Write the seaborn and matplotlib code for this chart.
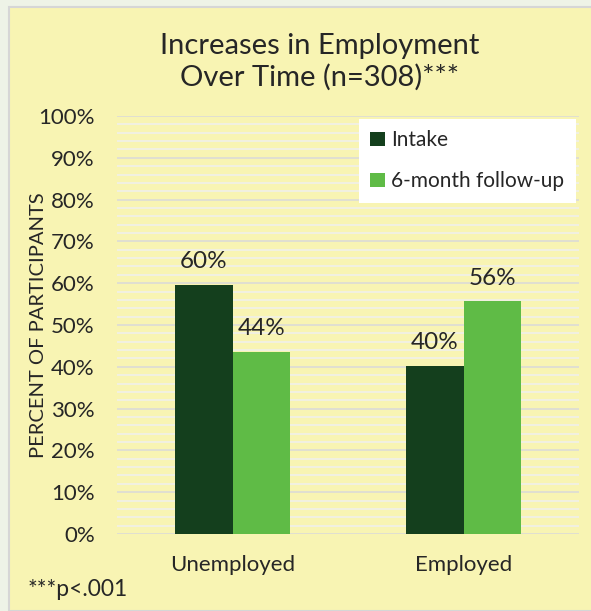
import matplotlib
matplotlib.use("Agg")
import matplotlib.pyplot as plt
import seaborn as sns
import pandas as pd
from matplotlib.patches import Rectangle
from matplotlib.ticker import MultipleLocator, FuncFormatter

categories = ["Unemployed", "Employed"]
series = ["Intake", "6-month follow-up"]
intake = [59.6, 40.3]
followup = [43.6, 55.7]
value_labels = [["60%", "40%"], ["44%", "56%"]]

df = pd.DataFrame({
    "category": categories * 2,
    "series": [series[0]] * 2 + [series[1]] * 2,
    "value": intake + followup,
})

sns.set_theme(style="white")
plt.rcParams["font.family"] = ["Lato", "DejaVu Sans"]

YELLOW = "#F8F4B3"
DARK = "#143F1D"
LIGHT = "#5FBB46"
TEXT = "#262626"

fig = plt.figure(figsize=(5.91, 6.11), dpi=100, facecolor="#EEF3E7")
fig.patches.append(Rectangle((9 / 591, 0), 1, 1 - 7 / 611, transform=fig.transFigure,
                             facecolor=YELLOW, edgecolor="#D6D6D6", linewidth=1.5, zorder=-10))

ax = fig.add_axes([117 / 591, 1 - 534 / 611, (579 - 117) / 591, (534 - 116) / 611])
ax.set_facecolor(YELLOW)
ax.patch.set_alpha(0)

sns.barplot(data=df, x="category", y="value", hue="series", order=categories,
            hue_order=series, palette=[DARK, LIGHT], width=0.5, gap=0,
            saturation=1, ax=ax, zorder=3, linewidth=0)

ax.set_ylim(0, 100)
ax.set_xlim(-0.5, 1.5)
ax.yaxis.set_major_locator(MultipleLocator(10))
ax.yaxis.set_minor_locator(MultipleLocator(2))
ax.yaxis.set_major_formatter(FuncFormatter(lambda v, p: f"{int(round(v))}%"))
ax.grid(False)
ax.grid(axis="y", which="minor", color="#EFEFEF", linewidth=1.1, zorder=1)
ax.grid(axis="y", which="major", color="#D9D9D9", linewidth=1.1, zorder=2)
ax.set_axisbelow(True)
for s in ax.spines.values():
    s.set_visible(False)
ax.tick_params(axis="both", which="both", length=0, labelsize=16, colors=TEXT)
ax.tick_params(axis="y", pad=16)
ax.tick_params(axis="x", pad=15)
ax.set_xlabel("")
ax.set_ylabel("PERCENT OF PARTICIPANTS", fontsize=14.5, color=TEXT, labelpad=0)
ax.yaxis.set_label_coords(-0.151, 0.5)

for cont, labs in zip(ax.containers, value_labels):
    ax.bar_label(cont, labels=labs, padding=9, fontsize=17.5, color=TEXT)

handles, labels = ax.get_legend_handles_labels()
leg = ax.legend(handles, labels, loc="upper left",
                bbox_to_anchor=(359 / 591, 1 - 119 / 611), bbox_transform=fig.transFigure,
                frameon=True, fancybox=False, facecolor="white", edgecolor="none",
                framealpha=1, fontsize=15, handlelength=0.7, handleheight=0.7,
                handletextpad=0.3, labelspacing=1.0, borderpad=0.55, borderaxespad=0)
for t in leg.get_texts():
    t.set_color(TEXT)
leg.set_zorder(5)

fig.text(320 / 591, 1 - 62 / 611, "Increases in Employment\nOver Time (n=308)***",
         ha="center", va="center", fontsize=21, color=TEXT, linespacing=1.25)
fig.text(28 / 591, 1 - 590 / 611, "***p<.001", ha="left", va="center",
         fontsize=16.5, color=TEXT)

fig.savefig("out.png", dpi=100, facecolor=fig.get_facecolor())
